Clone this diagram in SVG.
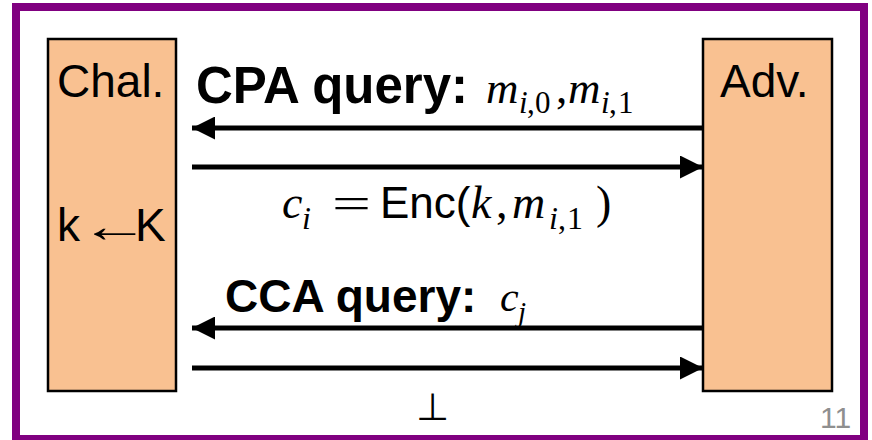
<svg xmlns="http://www.w3.org/2000/svg" width="872" height="440" viewBox="0 0 872 440">
<defs>
<style>
.box{fill:#F9C191;stroke:#000;stroke-width:2.5}
.lbl{font-family:"Liberation Sans",Arial,sans-serif;font-size:46px;fill:#000}
.bold{font-family:"Liberation Sans",Arial,sans-serif;font-weight:bold;fill:#000}
.math{font-family:"Liberation Serif","Times New Roman",serif;font-style:italic;fill:#000}
.rm{font-family:"Liberation Serif","Times New Roman",serif;fill:#000}
.sans{font-family:"Liberation Sans",Arial,sans-serif;fill:#000}
.conn{stroke:#000;stroke-width:5;fill:none}
</style>
<marker id="ah" viewBox="0 0 10 10" refX="10" refY="5" markerWidth="4.6" markerHeight="4.6" markerUnits="strokeWidth" orient="auto">
<path d="M0,0 L10,5 L0,10 z" fill="#000"/>
</marker>
</defs>
<rect x="16" y="7" width="848" height="432" fill="#fff" stroke="#800080" stroke-width="8"/>
<g id="chal">
<rect class="box" x="48" y="39" width="128" height="352"/>
<text class="lbl" x="57" y="97">Chal.</text>
<text class="lbl" y="241" font-size="45"><tspan x="57">k</tspan><tspan x="135">K</tspan></text>
<text class="lbl" x="80" y="242" font-size="48" textLength="70" lengthAdjust="spacingAndGlyphs">←</text>
</g>
<g id="adv">
<rect class="box" x="703" y="39" width="129" height="352"/>
<text class="lbl" x="720" y="97">Adv.</text>
</g>
<g id="connectors">
<line class="conn" x1="703" y1="128" x2="192" y2="128" marker-end="url(#ah)"/>
<line class="conn" x1="192" y1="167" x2="703" y2="167" marker-end="url(#ah)"/>
<line class="conn" x1="703" y1="328" x2="192" y2="328" marker-end="url(#ah)"/>
<line class="conn" x1="192" y1="368" x2="703" y2="368" marker-end="url(#ah)"/>
</g>
<g id="labels">
<text class="bold" x="196" y="103" font-size="51">CPA query:</text>
<text class="math" x="486" y="103" font-size="45">m</text>
<text class="rm" y="113" font-size="31"><tspan class="math" x="519">i</tspan><tspan x="527">,</tspan><tspan x="535">0</tspan></text>
<text class="rm" x="556" y="103" font-size="45">,</text>
<text class="math" x="568" y="103" font-size="45">m</text>
<text class="rm" y="113" font-size="31"><tspan class="math" x="601">i</tspan><tspan x="609">,</tspan><tspan x="618">1</tspan></text>

<text class="math" x="282" y="218" font-size="46">c</text>
<text class="math" x="302" y="229" font-size="32">i</text>
<text class="rm" x="332" y="218" font-size="44" textLength="39" lengthAdjust="spacingAndGlyphs">=</text>
<text class="sans" x="380" y="218" font-size="44">Enc(</text>
<text class="math" x="471" y="218" font-size="46">k</text>
<text class="rm" x="496" y="218" font-size="46">,</text>
<text class="math" x="512" y="218" font-size="46">m</text>
<text class="rm" y="229" font-size="32"><tspan class="math" x="549">i</tspan><tspan x="558">,</tspan><tspan x="567">1</tspan></text>
<text class="rm" x="596" y="218" font-size="46">)</text>

<text class="bold" x="225" y="312" font-size="46">CCA query:</text>
<text class="math" x="500" y="311" font-size="42">c</text>
<text class="math" x="518" y="322" font-size="29">j</text>

<text class="sans" x="416" y="420" font-size="38" style="font-family:'DejaVu Sans',sans-serif">⊥</text>
<text class="sans" x="820" y="428" font-size="30" style="fill:#8f8f8f">11</text>
</g>
</svg>
